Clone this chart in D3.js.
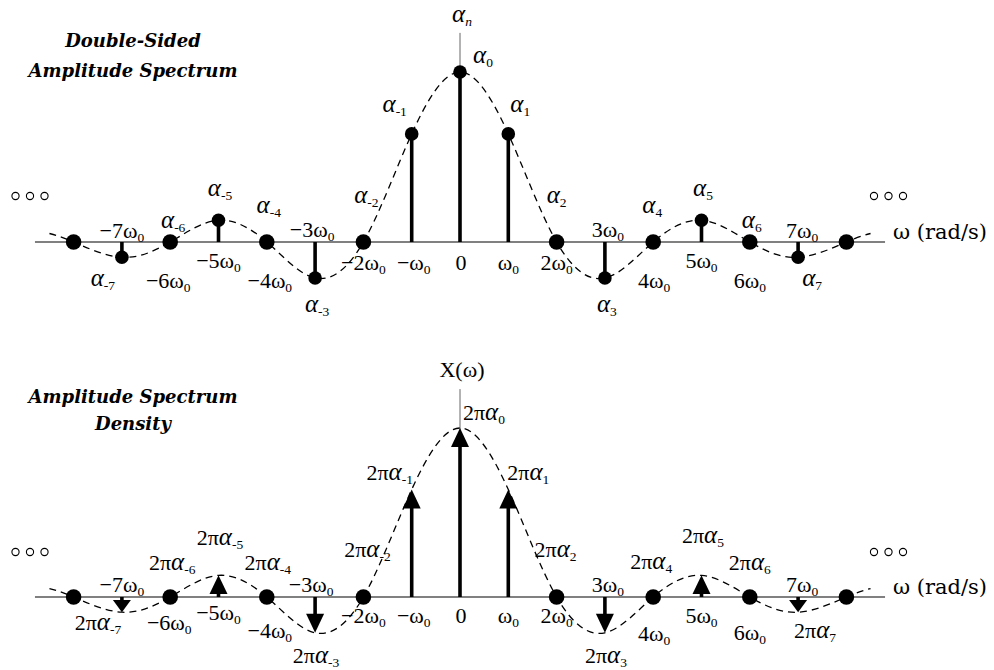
<!DOCTYPE html>
<html><head><meta charset="utf-8">
<script src="https://cdn.jsdelivr.net/npm/d3@7"></script>
<style>body{margin:0;background:#fff}svg{display:block}</style>
</head><body>
<svg id="chart" width="994" height="670"></svg>
<script>
// ---------------- data ----------------
const harmonics   = [-8,-7,-6,-5,-4,-3,-2,-1,0,1,2,3,4,5,6,7,8];
const alphaValues = [0,-0.045,0,0.064,0,-0.106,0,0.318,0.5,0.318,0,-0.106,0,0.064,0,-0.045,0];
const envelopeEdgeHarmonics = [-8.5, 8.5];
const envelopeEdgeValues    = [0.025, 0.025];
const tickHarmonics = [-7,-6,-5,-4,-3,-2,-1,0,1,2,3,4,5,6,7];
const tickLabels    = ["−7ω0","−6ω0","−5ω0","−4ω0","−3ω0","−2ω0","−ω0","0","ω0","2ω0","3ω0","4ω0","5ω0","6ω0","7ω0"];
const alphaLabels   = ["α-7","α-6","α-5","α-4","α-3","α-2","α-1","α0","α1","α2","α3","α4","α5","α6","α7"];
const densityLabels = ["2πα-7","2πα-6","2πα-5","2πα-4","2πα-3","2πα-2","2πα-1","2πα0","2πα1","2πα2","2πα3","2πα4","2πα5","2πα6","2πα7"];
const topTitle    = ["Double-Sided","Amplitude Spectrum"];
const bottomTitle = ["Amplitude Spectrum","Density"];
const topYLabel = "αn";
const bottomYLabel = "X(ω)";
const xAxisLabel = "ω (rad/s)";

// ---------------- layout ----------------
const svg = d3.select("#chart");
const FONT = "Liberation Serif, Times New Roman, serif";
const FS = 22, SUB = 13.5, ALPHA = 25;
const x = d3.scaleLinear().domain([-8, 8]).range([73.6, 846.4]);
const yTop = d3.scaleLinear().domain([0, 0.5]).range([242, 72]);
const yBot = d3.scaleLinear().domain([0, 0.5]).range([597, 428]);

// label placement tables (dx from harmonic, baseline offset from axis)
const topTickPos = {"-7":[0,-4],"-6":[-2,46],"-5":[0,26],"-4":[3,46],"-3":[-3,-5],"-2":[0,28],"-1":[2,28],"0":[1,28],"1":[0,28],"2":[0,28],"3":[3,-5],"4":[1,46],"5":[0,26],"6":[0,46],"7":[4,-4]};
const topAlphaPos = {"-7":[-19,44],"-6":[3,-14],"-5":[1.5,-46],"-4":[2,-29],"-3":[2,70],"-2":[3,-39],"-1":[-17,-130],"0":[13,-179,"start"],"1":[12,-130],"2":[0,-39],"3":[2,70],"4":[-1,-29],"5":[1.5,-46],"6":[2,-14],"7":[14,44]};
const botTickPos = {"-7":[0,-5],"-6":[-1,33],"-5":[0,23],"-4":[3,41],"-3":[-4,-5],"-2":[0,26],"-1":[2,26],"0":[1,26],"1":[0,26],"2":[0,26],"3":[3,-5],"4":[1,44],"5":[0,26],"6":[0,43],"7":[4,-5]};
const botDensPos = {"-7":[-24,33],"-6":[2,-27],"-5":[1.5,-52],"-4":[1,-27],"-3":[1,66],"-2":[4,-40],"-1":[-22,-117],"0":[3,-177,"start"],"1":[20,-117],"2":[-1,-40],"3":[1,66],"4":[-2,-28],"5":[1.5,-54],"6":[0,-27],"7":[17,41]};

function parseTick(s){
  if (s.endsWith("ω0")) return [{t:s.slice(0,-1)},{t:"0",sub:true}];
  return [{t:s}];
}
function parseAlpha(s){
  const i = s.indexOf("α"), parts = [];
  if (i > 0) parts.push({t:s.slice(0,i)});
  parts.push({t:"α", it:true, big:true});
  const sub = s.slice(i+1);
  if (sub) parts.push({t:sub, sub:true, it:/^[a-z]$/.test(sub)});
  return parts;
}
function rich(g, px, py, parts, anchor, size){
  const t = g.append("text").attr("x",px).attr("y",py)
    .attr("text-anchor",anchor||"middle").attr("font-family",FONT)
    .attr("font-size",size||FS).attr("fill","#000");
  parts.forEach(p=>{
    const s = t.append("tspan").text(p.t);
    if (p.it) s.attr("font-style","italic");
    if (p.big) s.attr("font-size",ALPHA);
    if (p.sub) s.attr("font-size",SUB).attr("dy",3.5);
  });
  return t;
}

const points = harmonics.map((n,i)=>({n, v:alphaValues[i]}));
const envelope = [{n:envelopeEdgeHarmonics[0], v:envelopeEdgeValues[0]}, ...points, {n:envelopeEdgeHarmonics[1], v:envelopeEdgeValues[1]}];

function panel(y, yLabelParts, yLabelBase, dotsY){
  const g = svg.append("g");
  const y0 = y(0);
  g.append("line").attr("x1",x(-8.8)).attr("x2",x(8.8)).attr("y1",y0).attr("y2",y0)
    .attr("stroke","#808080").attr("stroke-width",2);
  g.append("line").attr("x1",x(0)).attr("x2",x(0)).attr("y1",y(0.615)).attr("y2",y0)
    .attr("stroke","#666").attr("stroke-width",1);
  rich(g, x(0)+2, yLabelBase, yLabelParts, "middle");
  g.append("path").datum(envelope)
    .attr("d", d3.line().x(d=>x(d.n)).y(d=>y(d.v)).curve(d3.curveNatural))
    .attr("fill","none").attr("stroke","#000").attr("stroke-width",1.3)
    .attr("stroke-dasharray","7,5");
  g.append("text").attr("x",893).attr("y",y0-3).attr("font-family","DejaVu Serif, serif")
    .attr("font-size",21).text(xAxisLabel);
  [[15.5,30,44.5],[874,888.5,903]].forEach(xs=>xs.forEach(cx=>
    g.append("circle").attr("cx",cx).attr("cy",dotsY).attr("r",3.6)
      .attr("fill","none").attr("stroke","#000").attr("stroke-width",1.1)));
  return g;
}

// ---------------- top panel ----------------
const gT = panel(yTop, parseAlpha(topYLabel), 22, 196);
gT.selectAll(".stem").data(points.filter(d=>d.v!==0)).join("line")
  .attr("x1",d=>x(d.n)).attr("x2",d=>x(d.n)).attr("y1",yTop(0)).attr("y2",d=>yTop(d.v))
  .attr("stroke","#000").attr("stroke-width",3.6);
gT.selectAll(".dot").data(points).join("circle")
  .attr("cx",d=>x(d.n)).attr("cy",d=>yTop(d.v)).attr("r",d=>d.v===0?7.8:6.8).attr("fill","#000");
tickHarmonics.forEach((n,i)=>{
  const p = topTickPos[n];
  rich(gT, x(n)+p[0], yTop(0)+p[1], parseTick(tickLabels[i]));
  const a = topAlphaPos[n];
  rich(gT, x(n)+a[0], yTop(0)+a[1], parseAlpha(alphaLabels[i]), a[2]);
});
topTitle.forEach((s,i)=>svg.append("text").attr("x",133).attr("y",[47,77][i])
  .attr("text-anchor","middle").attr("font-family","DejaVu Serif, serif")
  .attr("font-weight","bold").attr("font-style","italic").attr("font-size",18).text(s));

// ---------------- bottom panel ----------------
const gB = panel(yBot, [{t:bottomYLabel}], 377, 552);
points.filter(d=>d.v!==0).forEach(d=>{
  const tip = yBot(d.v), base = yBot(0), len = Math.abs(tip-base), dir = d.v>0?1:-1;
  const head = Math.min(19, len-3), hw = 9;
  gB.append("line").attr("x1",x(d.n)).attr("x2",x(d.n)).attr("y1",base).attr("y2",tip+dir*head*0.6)
    .attr("stroke","#000").attr("stroke-width",3.6);
  gB.append("path").attr("d",`M${x(d.n)},${tip}L${x(d.n)-hw},${tip+dir*head}L${x(d.n)+hw},${tip+dir*head}Z`)
    .attr("fill","#000");
});
gB.selectAll(".dot").data(points.filter(d=>d.v===0)).join("circle")
  .attr("cx",d=>x(d.n)).attr("cy",yBot(0)).attr("r",7.8).attr("fill","#000");
tickHarmonics.forEach((n,i)=>{
  const p = botTickPos[n];
  rich(gB, x(n)+p[0], yBot(0)+p[1], parseTick(tickLabels[i]));
  const a = botDensPos[n];
  rich(gB, x(n)+a[0], yBot(0)+a[1], parseAlpha(densityLabels[i]), a[2]);
});
bottomTitle.forEach((s,i)=>svg.append("text").attr("x",133).attr("y",[403,430][i])
  .attr("text-anchor","middle").attr("font-family","DejaVu Serif, serif")
  .attr("font-weight","bold").attr("font-style","italic").attr("font-size",18).text(s));
</script>
</body></html>
